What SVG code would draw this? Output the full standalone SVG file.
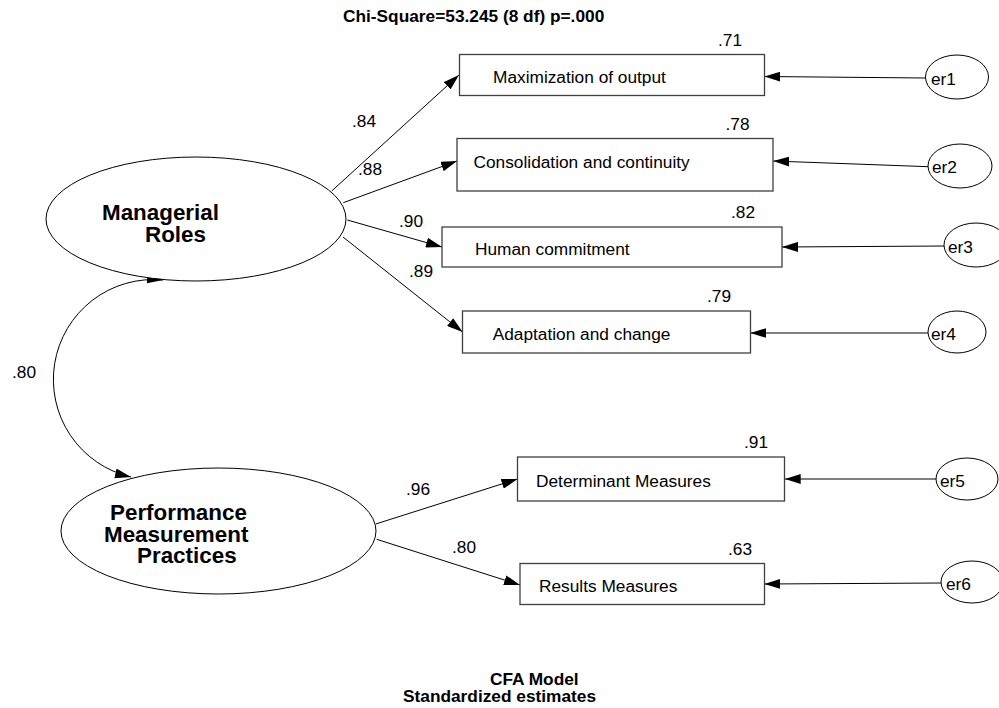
<svg xmlns="http://www.w3.org/2000/svg" width="999" height="708" viewBox="0 0 999 708">
<defs>
<style>
.t{font-family:"Liberation Sans",Arial,sans-serif;font-size:17.3px;fill:#000}
.b{font-family:"Liberation Sans",Arial,sans-serif;font-size:17.3px;font-weight:bold;fill:#000}
.lat{font-family:"Liberation Sans",Arial,sans-serif;font-size:22.4px;font-weight:bold;fill:#000}
.box{fill:#fff;stroke:#404040;stroke-width:1.3}
.ell{fill:#fff;stroke:#000;stroke-width:1}
.c{fill:none;stroke:#000;stroke-width:1;marker-end:url(#ah)}
</style>
<marker id="ah" markerUnits="userSpaceOnUse" markerWidth="16" markerHeight="10" refX="16" refY="5" orient="auto-start-reverse">
<path d="M0,0 L16,5 L0,10 z" fill="#000"/>
</marker>
</defs>
<rect width="999" height="708" fill="#fff"/>
<text class="b" x="343" y="22">Chi-Square=53.245 (8 df) p=.000</text>

<g id="connectors">
<line class="c" x1="331.7" y1="191" x2="459" y2="75"/>
<line class="c" x1="343.3" y1="202.7" x2="457" y2="161"/>
<line class="c" x1="347.3" y1="220" x2="442" y2="247"/>
<line class="c" x1="343" y1="237" x2="462.6" y2="332"/>
<line class="c" x1="375.7" y1="524" x2="517.5" y2="479"/>
<line class="c" x1="376.7" y1="539.3" x2="520" y2="585"/>
<line class="c" x1="925.5" y1="78" x2="764.4" y2="76.5"/>
<line class="c" x1="928" y1="166.7" x2="773.2" y2="161"/>
<line class="c" x1="944" y1="246" x2="782" y2="247"/>
<line class="c" x1="928" y1="333" x2="750.4" y2="333"/>
<line class="c" x1="936" y1="479" x2="784.7" y2="479"/>
<line class="c" x1="941" y1="583" x2="764.4" y2="584"/>
<path class="c" d="M163,280 A100,100 0 0 0 131,477" style="marker-start:url(#ah)"/>
<text class="t" x="352" y="127">.84</text>
<text class="t" x="358" y="175">.88</text>
<text class="t" x="399" y="227">.90</text>
<text class="t" x="409" y="277">.89</text>
<text class="t" x="12" y="378">.80</text>
<text class="t" x="406" y="495">.96</text>
<text class="t" x="452" y="553">.80</text>
</g>

<g id="managerial-roles">
<ellipse class="ell" cx="196" cy="219" rx="150" ry="62"/>
<text class="lat" x="102" y="220">Managerial</text>
<text class="lat" x="145" y="242">Roles</text>
</g>
<g id="performance-measurement-practices">
<ellipse class="ell" cx="218.5" cy="531" rx="157.5" ry="63"/>
<text class="lat" x="110" y="520">Performance</text>
<text class="lat" x="104" y="542">Measurement</text>
<text class="lat" x="137" y="563">Practices</text>
</g>

<g id="maximization">
<rect class="box" x="459.5" y="54.5" width="305" height="41"/>
<text class="t" x="493" y="83">Maximization of output</text>
<text class="t" x="730" y="46" text-anchor="middle">.71</text>
</g>
<g id="consolidation">
<rect class="box" x="457" y="138.5" width="316" height="52.5"/>
<text class="t" x="473.5" y="168">Consolidation and continuity</text>
<text class="t" x="737.5" y="130" text-anchor="middle">.78</text>
</g>
<g id="human-commitment">
<rect class="box" x="442" y="227" width="340" height="40"/>
<text class="t" x="475" y="255">Human commitment</text>
<text class="t" x="743" y="218" text-anchor="middle">.82</text>
</g>
<g id="adaptation">
<rect class="box" x="462.5" y="311" width="288" height="42"/>
<text class="t" x="492.7" y="340">Adaptation and change</text>
<text class="t" x="719" y="302" text-anchor="middle">.79</text>
</g>
<g id="determinant">
<rect class="box" x="517.5" y="457" width="267" height="44"/>
<text class="t" x="536" y="487">Determinant Measures</text>
<text class="t" x="756" y="448" text-anchor="middle">.91</text>
</g>
<g id="results">
<rect class="box" x="520" y="563.5" width="244.5" height="41"/>
<text class="t" x="539" y="592">Results Measures</text>
<text class="t" x="740" y="555" text-anchor="middle">.63</text>
</g>

<g id="er1"><ellipse class="ell" cx="957" cy="77" rx="31.5" ry="22"/><text class="t" x="931" y="85">er1</text></g>
<g id="er2"><ellipse class="ell" cx="960" cy="166" rx="32" ry="22"/><text class="t" x="932" y="173">er2</text></g>
<g id="er3"><ellipse class="ell" cx="976" cy="245" rx="32" ry="22"/><text class="t" x="948" y="253">er3</text></g>
<g id="er4"><ellipse class="ell" cx="957" cy="332" rx="29" ry="21"/><text class="t" x="931" y="340">er4</text></g>
<g id="er5"><ellipse class="ell" cx="967" cy="479" rx="31" ry="21"/><text class="t" x="940" y="487">er5</text></g>
<g id="er6"><ellipse class="ell" cx="972" cy="582" rx="31" ry="21"/><text class="t" x="946" y="590">er6</text></g>

<text class="b" x="490" y="685">CFA Model</text>
<text class="b" x="403" y="702">Standardized estimates</text>
</svg>
